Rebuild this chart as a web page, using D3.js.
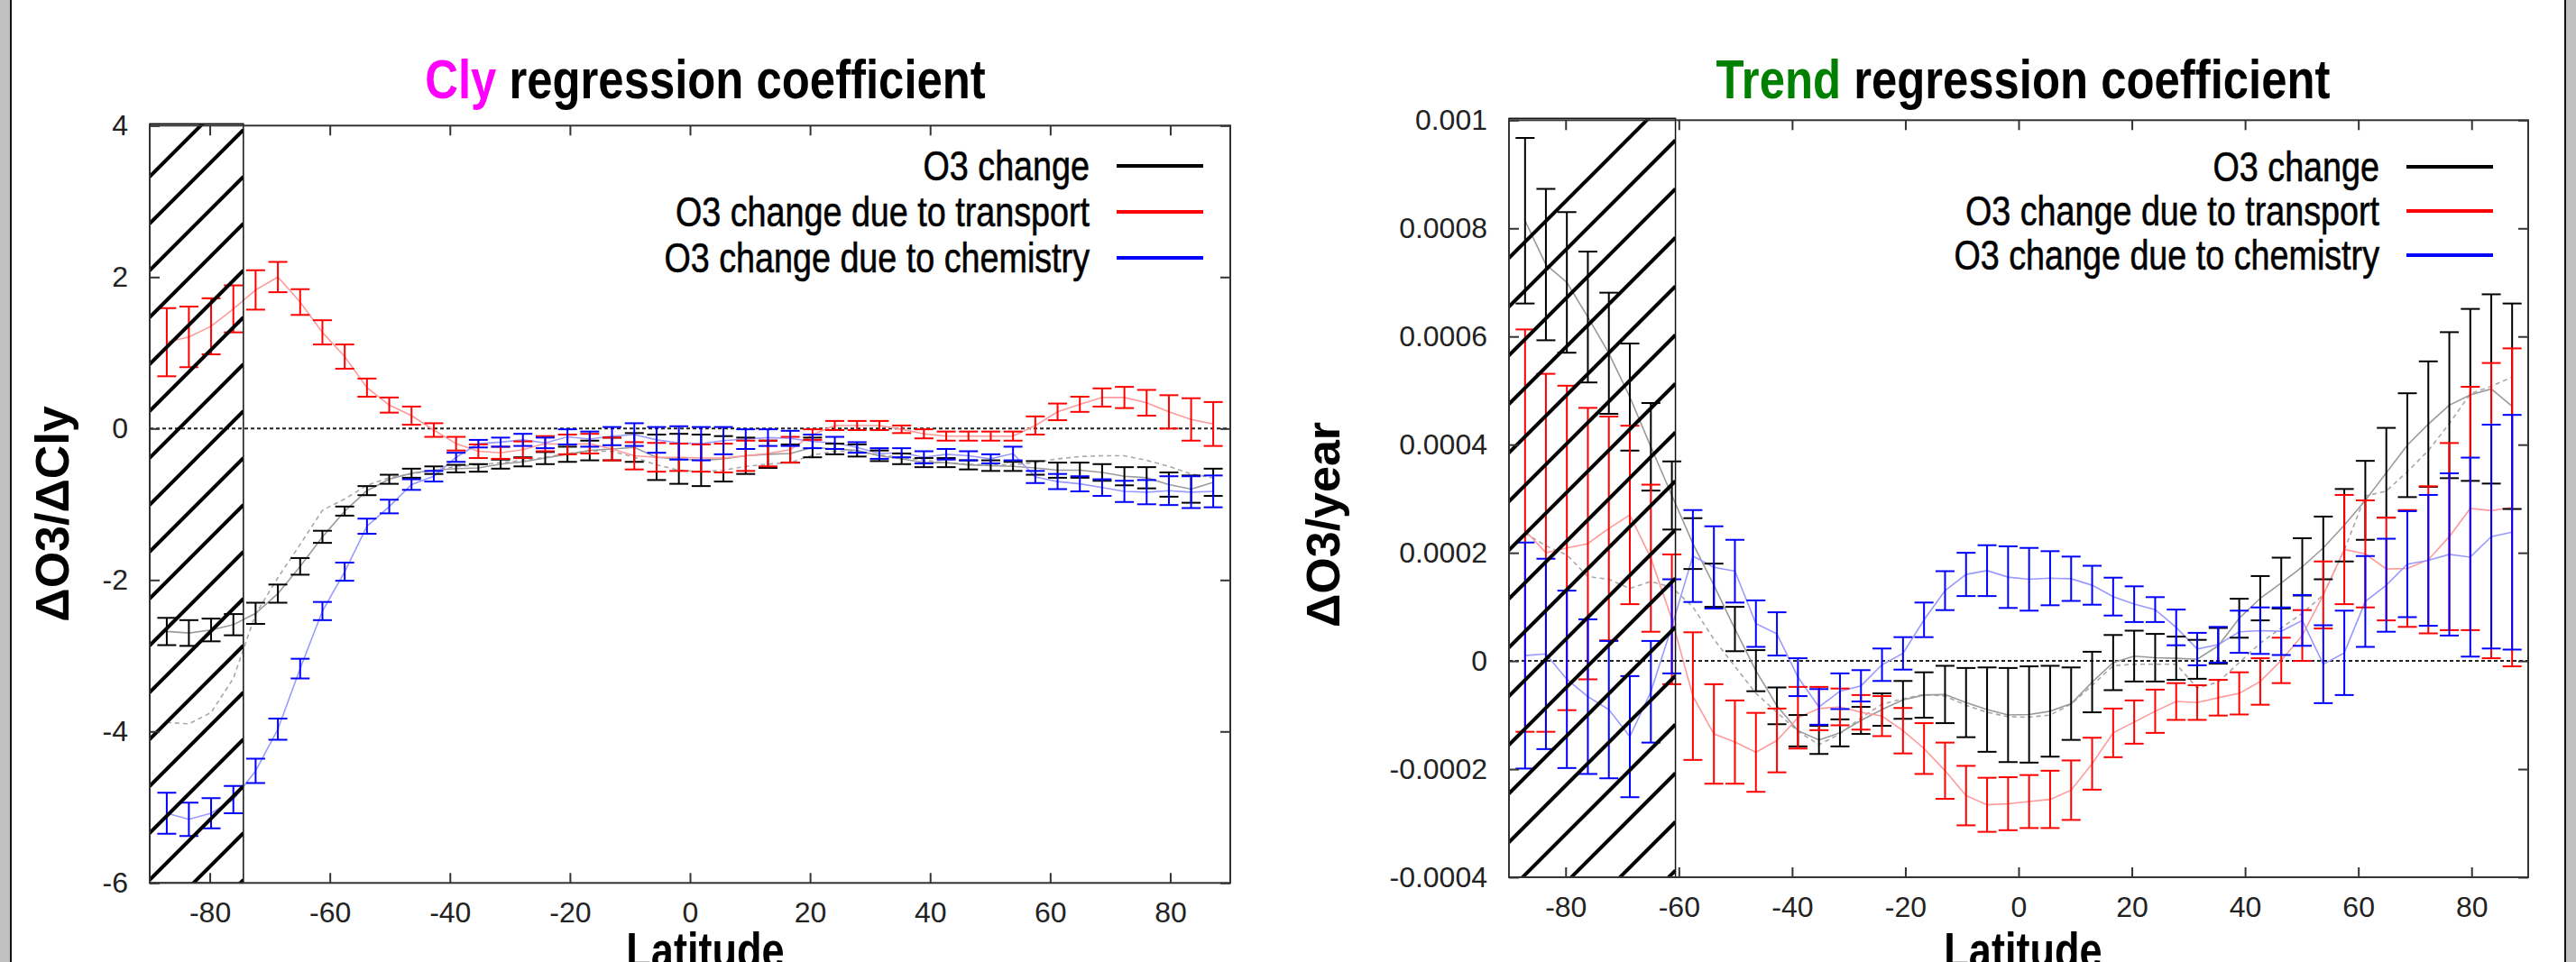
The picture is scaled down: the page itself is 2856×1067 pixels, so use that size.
<!DOCTYPE html>
<html>
<head>
<meta charset="utf-8">
<script src="https://cdn.jsdelivr.net/npm/d3@7"></script>
<style>
  html, body { margin: 0; padding: 0; background: #fff; }
  svg { display: block; }
</style>
</head>
<body>
<svg id="chart" width="2856" height="1067"></svg>
<script>
// Latitudes of the zonal-mean grid (48 Gaussian latitudes, south to north)
const lats = [-87.159, -83.479, -79.777, -76.070, -72.362, -68.652, -64.942, -61.232,
  -57.521, -53.810, -50.099, -46.389, -42.678, -38.967, -35.256, -31.545,
  -27.834, -24.123, -20.412, -16.701, -12.990, -9.278, -5.567, -1.856,
  1.856, 5.567, 9.278, 12.990, 16.701, 20.412, 24.123, 27.834,
  31.545, 35.256, 38.967, 42.678, 46.389, 50.099, 53.810, 57.521,
  61.232, 64.942, 68.652, 72.362, 76.070, 79.777, 83.479, 87.159];

const seriesNames = ["O3 change", "O3 change due to transport", "O3 change due to chemistry"];

// ---- Cly regression coefficient (dO3/dCly) ----
const clyTotal = [-2.68, -2.70, -2.66, -2.59, -2.44, -2.18, -1.82, -1.43, -1.09, -0.82, -0.67, -0.59,
  -0.55, -0.53, -0.52, -0.47, -0.44, -0.39, -0.34, -0.29, -0.27, -0.25, -0.38, -0.40,
  -0.42, -0.40, -0.36, -0.34, -0.33, -0.25, -0.27, -0.29, -0.36, -0.40, -0.45, -0.45,
  -0.48, -0.49, -0.50, -0.52, -0.55, -0.55, -0.58, -0.63, -0.65, -0.74, -0.80, -0.71];
const clyTotalErr = [0.18, 0.17, 0.15, 0.14, 0.14, 0.12, 0.11, 0.08, 0.06, 0.06, 0.06, 0.06,
  0.05, 0.05, 0.05, 0.06, 0.06, 0.08, 0.10, 0.13, 0.15, 0.19, 0.30, 0.33,
  0.34, 0.30, 0.24, 0.18, 0.12, 0.13, 0.07, 0.08, 0.07, 0.07, 0.06, 0.06,
  0.06, 0.07, 0.06, 0.09, 0.10, 0.10, 0.11, 0.12, 0.14, 0.16, 0.18, 0.18];
const clyTransport = [1.14, 1.21, 1.35, 1.58, 1.83, 2.00, 1.67, 1.27, 0.95, 0.54, 0.31, 0.17,
  -0.02, -0.20, -0.30, -0.32, -0.28, -0.20, -0.21, -0.20, -0.27, -0.36, -0.38, -0.38,
  -0.39, -0.39, -0.36, -0.33, -0.28, -0.08, 0.04, 0.04, 0.04, -0.01, -0.07, -0.10,
  -0.10, -0.10, -0.10, 0.04, 0.22, 0.32, 0.41, 0.41, 0.34, 0.22, 0.12, 0.06];
const clyTransportErr = [0.45, 0.40, 0.37, 0.31, 0.26, 0.20, 0.17, 0.16, 0.16, 0.12, 0.10, 0.12,
  0.09, 0.09, 0.09, 0.08, 0.11, 0.10, 0.13, 0.13, 0.15, 0.18, 0.19, 0.18,
  0.18, 0.19, 0.20, 0.17, 0.17, 0.07, 0.06, 0.06, 0.06, 0.05, 0.06, 0.06,
  0.06, 0.06, 0.06, 0.12, 0.11, 0.10, 0.12, 0.14, 0.17, 0.22, 0.28, 0.29];
const clyChemistry = [-5.08, -5.16, -5.08, -4.90, -4.52, -3.97, -3.17, -2.41, -1.89, -1.29, -1.03, -0.74,
  -0.63, -0.38, -0.20, -0.18, -0.15, -0.19, -0.11, -0.14, -0.10, -0.08, -0.15, -0.19,
  -0.20, -0.16, -0.14, -0.12, -0.13, -0.17, -0.19, -0.25, -0.33, -0.32, -0.38, -0.34,
  -0.36, -0.40, -0.33, -0.64, -0.70, -0.73, -0.78, -0.83, -0.84, -0.82, -0.84, -0.83];
const clyChemistryErr = [0.27, 0.22, 0.20, 0.18, 0.16, 0.14, 0.13, 0.12, 0.12, 0.10, 0.09, 0.07,
  0.07, 0.06, 0.05, 0.06, 0.08, 0.07, 0.10, 0.10, 0.12, 0.15, 0.17, 0.22,
  0.22, 0.18, 0.13, 0.11, 0.10, 0.09, 0.08, 0.07, 0.07, 0.06, 0.08, 0.07,
  0.06, 0.06, 0.09, 0.08, 0.10, 0.10, 0.11, 0.14, 0.16, 0.19, 0.21, 0.21];
// companion estimate of the total change (grey dashed curve)
const clyTotalAlt = [-3.88, -3.90, -3.75, -3.30, -2.45, -1.97, -1.53, -1.08, -0.93, -0.75, -0.65, -0.60,
  -0.55, -0.50, -0.48, -0.45, -0.42, -0.38, -0.33, -0.30, -0.30, -0.38, -0.48, -0.55,
  -0.57, -0.55, -0.50, -0.47, -0.45, -0.35, -0.30, -0.30, -0.35, -0.38, -0.42, -0.45,
  -0.47, -0.48, -0.48, -0.45, -0.40, -0.37, -0.36, -0.36, -0.42, -0.50, -0.60, -0.65];
const clyTicks = [-6, -4, -2, 0, 2, 4];
const clyTickLabels = ["-6", "-4", "-2", "0", "2", "4"];

// ---- Trend regression coefficient (dO3/year) ----
const trendTotal = [8.14e-4, 7.33e-4, 7.00e-4, 6.36e-4, 5.69e-4, 4.88e-4, 3.96e-4, 3.06e-4, 2.17e-4, 1.40e-4, 0.59e-4, -0.18e-4,
  -0.83e-4, -1.29e-4, -1.46e-4, -1.33e-4, -1.10e-4, -0.90e-4, -0.72e-4, -0.63e-4, -0.62e-4, -0.77e-4, -0.90e-4, -1.00e-4,
  -0.99e-4, -0.93e-4, -0.79e-4, -0.39e-4, -0.03e-4, 0.09e-4, 0.06e-4, 0.05e-4, 0.03e-4, 0.28e-4, 0.79e-4, 1.16e-4,
  1.44e-4, 1.74e-4, 2.09e-4, 2.51e-4, 2.97e-4, 3.48e-4, 3.99e-4, 4.38e-4, 4.73e-4, 4.92e-4, 5.03e-4, 4.71e-4];
const trendTotalErr = [1.53e-4, 1.40e-4, 1.30e-4, 1.21e-4, 1.12e-4, 0.99e-4, 0.81e-4, 0.63e-4, 0.47e-4, 0.40e-4, 0.41e-4, 0.38e-4,
  0.34e-4, 0.29e-4, 0.26e-4, 0.25e-4, 0.25e-4, 0.30e-4, 0.35e-4, 0.42e-4, 0.53e-4, 0.64e-4, 0.78e-4, 0.87e-4,
  0.89e-4, 0.84e-4, 0.67e-4, 0.56e-4, 0.51e-4, 0.47e-4, 0.44e-4, 0.40e-4, 0.36e-4, 0.33e-4, 0.36e-4, 0.41e-4,
  0.47e-4, 0.53e-4, 0.58e-4, 0.67e-4, 0.73e-4, 0.83e-4, 0.96e-4, 1.16e-4, 1.35e-4, 1.59e-4, 1.75e-4, 1.90e-4];
const trendTransport = [2.41e-4, 2.00e-4, 2.09e-4, 2.17e-4, 2.45e-4, 2.70e-4, 1.90e-4, 0.77e-4, -0.65e-4, -1.35e-4, -1.50e-4, -1.69e-4,
  -1.47e-4, -1.05e-4, -0.88e-4, -0.85e-4, -0.95e-4, -1.02e-4, -1.29e-4, -1.62e-4, -2.03e-4, -2.49e-4, -2.66e-4, -2.64e-4,
  -2.60e-4, -2.56e-4, -2.39e-4, -1.90e-4, -1.33e-4, -1.13e-4, -0.93e-4, -0.75e-4, -0.77e-4, -0.68e-4, -0.60e-4, -0.38e-4,
  0.01e-4, 0.47e-4, 1.22e-4, 2.06e-4, 1.98e-4, 1.70e-4, 1.71e-4, 1.87e-4, 2.30e-4, 2.82e-4, 2.78e-4, 2.84e-4];
const trendTransportErr = [3.72e-4, 3.31e-4, 3.00e-4, 2.51e-4, 2.07e-4, 1.65e-4, 1.36e-4, 1.20e-4, 1.18e-4, 0.92e-4, 0.77e-4, 0.73e-4,
  0.59e-4, 0.57e-4, 0.40e-4, 0.34e-4, 0.32e-4, 0.37e-4, 0.42e-4, 0.47e-4, 0.52e-4, 0.55e-4, 0.50e-4, 0.49e-4,
  0.49e-4, 0.53e-4, 0.55e-4, 0.48e-4, 0.45e-4, 0.40e-4, 0.40e-4, 0.34e-4, 0.32e-4, 0.33e-4, 0.39e-4, 0.43e-4,
  0.42e-4, 0.47e-4, 0.62e-4, 1.01e-4, 0.99e-4, 0.95e-4, 1.08e-4, 1.36e-4, 1.73e-4, 2.25e-4, 2.73e-4, 2.94e-4];
const trendChemistry = [0.10e-4, 0.13e-4, -0.34e-4, -0.66e-4, -0.90e-4, -1.40e-4, -0.57e-4, 0.64e-4, 1.94e-4, 1.73e-4, 1.66e-4, 0.69e-4,
  0.50e-4, -0.30e-4, -0.85e-4, -0.56e-4, -0.46e-4, -0.07e-4, 0.14e-4, 0.76e-4, 1.30e-4, 1.60e-4, 1.67e-4, 1.55e-4,
  1.51e-4, 1.53e-4, 1.52e-4, 1.40e-4, 1.19e-4, 1.05e-4, 0.95e-4, 0.62e-4, 0.22e-4, 0.30e-4, 0.54e-4, 0.56e-4,
  0.55e-4, 0.75e-4, -0.06e-4, 0.15e-4, 1.10e-4, 1.40e-4, 1.79e-4, 1.86e-4, 1.97e-4, 1.92e-4, 2.30e-4, 2.38e-4];
const trendChemistryErr = [2.09e-4, 1.76e-4, 1.64e-4, 1.43e-4, 1.27e-4, 1.12e-4, 0.94e-4, 0.87e-4, 0.85e-4, 0.76e-4, 0.58e-4, 0.43e-4,
  0.40e-4, 0.35e-4, 0.33e-4, 0.33e-4, 0.29e-4, 0.30e-4, 0.30e-4, 0.32e-4, 0.36e-4, 0.40e-4, 0.47e-4, 0.57e-4,
  0.58e-4, 0.50e-4, 0.41e-4, 0.36e-4, 0.35e-4, 0.33e-4, 0.23e-4, 0.33e-4, 0.30e-4, 0.33e-4, 0.39e-4, 0.43e-4,
  0.44e-4, 0.47e-4, 0.72e-4, 0.78e-4, 0.84e-4, 0.86e-4, 0.98e-4, 1.21e-4, 1.50e-4, 1.84e-4, 2.07e-4, 2.17e-4];
const trendTotalAlt = [2.36e-4, 2.13e-4, 1.96e-4, 1.56e-4, 1.51e-4, 1.34e-4, 1.47e-4, 1.36e-4, 1.00e-4, 0.40e-4, -0.10e-4, -0.60e-4,
  -0.95e-4, -1.30e-4, -1.55e-4, -1.35e-4, -1.05e-4, -0.80e-4, -0.70e-4, -0.62e-4, -0.65e-4, -0.82e-4, -0.95e-4, -1.03e-4,
  -1.04e-4, -1.00e-4, -0.80e-4, -0.45e-4, -0.09e-4, -0.06e-4, -0.06e-4, -0.06e-4, -0.50e-4, -0.39e-4, -0.03e-4, 0.33e-4,
  0.61e-4, 0.88e-4, 1.22e-4, 2.05e-4, 3.05e-4, 3.14e-4, 3.50e-4, 3.89e-4, 4.39e-4, 4.94e-4, 5.08e-4, 5.25e-4];
const trendTicks = [-0.0004, -0.0002, 0, 0.0002, 0.0004, 0.0006, 0.0008, 0.001];
const trendTickLabels = ["-0.0004", "-0.0002", "0", "0.0002", "0.0004", "0.0006", "0.0008", "0.001"];

const latTicks = [-80, -60, -40, -20, 0, 20, 40, 60, 80];
const latTickLabels = ["-80", "-60", "-40", "-20", "0", "20", "40", "60", "80"];

const W = 2856, H = 1067;
const svg = d3.select("#chart");
const SANS = "'Liberation Sans', Arial, sans-serif";
const NARROW_SCALE = 0.82;   // horizontal squeeze giving a condensed face

// slide edges
svg.append("rect").attr("x", 0).attr("y", 0).attr("width", 11).attr("height", H).attr("fill", "#c0c0c0");
svg.append("rect").attr("x", 11).attr("y", 0).attr("width", 2).attr("height", H).attr("fill", "#111");
svg.append("rect").attr("x", 2843).attr("y", 0).attr("width", 2).attr("height", H).attr("fill", "#111");
svg.append("rect").attr("x", 2845).attr("y", 0).attr("width", 11).attr("height", H).attr("fill", "#c0c0c0");

// condensed text helper
function narrowText(parent, x, y, anchor, size, weight) {
  return parent.append("text")
    .attr("transform", `translate(${x},${y}) scale(${NARROW_SCALE},1)`)
    .attr("text-anchor", anchor)
    .style("font-family", SANS).style("font-size", size + "px").style("font-weight", weight);
}

function drawPanel(p) {
  const x = d3.scaleLinear().domain([-90, 90]).range([p.left, p.right]);
  const y = d3.scaleLinear().domain(p.yDomain).range([p.bottom, p.top]);
  const g = svg.append("g");
  const clipId = "clip-" + p.id;
  g.append("clipPath").attr("id", clipId).append("rect")
    .attr("x", p.left).attr("y", p.top).attr("width", p.right - p.left).attr("height", p.bottom - p.top);
  const plot = g.append("g").attr("clip-path", `url(#${clipId})`);

  // zero reference
  plot.append("line")
    .attr("x1", p.left).attr("x2", p.right).attr("y1", y(0)).attr("y2", y(0))
    .attr("stroke", "#222").attr("stroke-width", 2).attr("stroke-dasharray", "4,3");

  const line = d3.line().x((d, i) => x(lats[i])).y(d => y(d));

  // companion estimate, grey dashed
  plot.append("path").datum(p.alt).attr("d", line)
    .attr("fill", "none").attr("stroke", "#a8a8a8").attr("stroke-width", 1.6).attr("stroke-dasharray", "5,4");

  const series = [
    { v: p.total, e: p.totalErr, bar: "#000000", thin: "#9a9a9a" },
    { v: p.transport, e: p.transportErr, bar: "#ff0000", thin: "#ff9a9a" },
    { v: p.chemistry, e: p.chemistryErr, bar: "#0000ff", thin: "#9a9aff" }
  ];
  // thin connecting lines through the central estimates
  series.forEach(s => {
    plot.append("path").datum(s.v).attr("d", line)
      .attr("fill", "none").attr("stroke", s.thin).attr("stroke-width", 1.6);
  });
  // error bars
  const cap = 10.5;
  series.forEach(s => {
    const eb = plot.append("g").attr("stroke", s.bar).attr("stroke-width", 2).attr("fill", "none");
    s.v.forEach((v, i) => {
      const cx = x(lats[i]);
      const yl = y(v - s.e[i]), yh = y(v + s.e[i]);
      eb.append("line").attr("x1", cx).attr("x2", cx).attr("y1", yl).attr("y2", yh);
      eb.append("line").attr("x1", cx - cap).attr("x2", cx + cap).attr("y1", yl).attr("y2", yl);
      eb.append("line").attr("x1", cx - cap).attr("x2", cx + cap).attr("y1", yh).attr("y2", yh);
    });
  });

  // hatched polar band
  const hx0 = x(-90), hx1 = x(p.hatchTo);
  const hTop = p.top - 2;
  const hid = "hclip-" + p.id;
  g.append("clipPath").attr("id", hid).append("rect")
    .attr("x", hx0).attr("y", hTop).attr("width", hx1 - hx0).attr("height", p.bottom - hTop);
  const hatch = g.append("g").attr("clip-path", `url(#${hid})`);
  const span = hx1 - hx0;
  for (let yy = p.hatchPhase - Math.ceil((p.hatchPhase - p.top) / p.hatchGap) * p.hatchGap;
       yy < p.bottom + span + p.hatchGap; yy += p.hatchGap) {
    hatch.append("line")
      .attr("x1", hx1).attr("y1", yy).attr("x2", hx1 - span - 10).attr("y2", yy + span + 10)
      .attr("stroke", "#000").attr("stroke-width", 4);
  }
  g.append("rect").attr("x", hx0).attr("y", hTop).attr("width", span).attr("height", p.bottom - hTop)
    .attr("fill", "none").attr("stroke", "#111").attr("stroke-width", 1.5);

  // axes: inward ticks on all four sides, labels on left and bottom
  const axStyle = sel => {
    sel.select(".domain").remove();
    sel.selectAll(".tick line").attr("stroke", "#333").attr("stroke-width", 2);
    sel.selectAll(".tick text").attr("fill", "#222").style("font-family", SANS).style("font-size", "32px");
  };
  g.append("g").attr("transform", `translate(0,${p.bottom})`)
    .call(d3.axisBottom(x).tickValues(latTicks).tickFormat((d, i) => latTickLabels[i])
      .tickSizeInner(-11).tickSizeOuter(0).tickPadding(21)).call(axStyle);
  g.append("g").attr("transform", `translate(0,${p.top})`)
    .call(d3.axisTop(x).tickValues(latTicks).tickFormat("").tickSizeInner(-11).tickSizeOuter(0)).call(axStyle);
  g.append("g").attr("transform", `translate(${p.left},0)`)
    .call(d3.axisLeft(y).tickValues(p.ticks).tickFormat((d, i) => p.tickLabels[i])
      .tickSizeInner(-11).tickSizeOuter(0).tickPadding(24)).call(axStyle);
  g.append("g").attr("transform", `translate(${p.right},0)`)
    .call(d3.axisRight(y).tickValues(p.ticks).tickFormat("").tickSizeInner(-11).tickSizeOuter(0)).call(axStyle);

  g.append("rect").attr("x", p.left).attr("y", p.top).attr("width", p.right - p.left).attr("height", p.bottom - p.top)
    .attr("fill", "none").attr("stroke", "#333").attr("stroke-width", 2);

  // legend
  const legColors = ["#000000", "#ff0000", "#0000ff"];
  seriesNames.forEach((name, i) => {
    const ly = p.legendY + i * p.legendGap;
    narrowText(g, p.legendTextX, ly + 16, "end", 46, "normal")
      .attr("fill", "#000").attr("stroke", "#000").attr("stroke-width", 0.6).text(name);
    g.append("line").attr("x1", p.legendTextX + 30).attr("x2", p.legendTextX + 126)
      .attr("y1", ly).attr("y2", ly).attr("stroke", legColors[i]).attr("stroke-width", 4);
  });

  // title
  const t = narrowText(g, p.titleX, 109, "middle", 62, "bold");
  t.append("tspan").attr("fill", p.titleColor).text(p.titleKey);
  t.append("tspan").attr("fill", "#000").text(" regression coefficient");

  // axis titles
  g.append("text").attr("transform", `translate(${p.yLabelX},${p.yLabelY}) rotate(-90)`)
    .attr("text-anchor", "middle").attr("dominant-baseline", "central")
    .style("font-family", SANS).style("font-size", "52px").style("font-weight", "bold")
    .attr("fill", "#000").text(p.yLabel);
  narrowText(g, p.titleX, 1073, "middle", 55, "bold").attr("fill", "#000").text("Latitude");
}

drawPanel({
  id: "cly", left: 166, right: 1364, top: 139.3, bottom: 979.3, yDomain: [-6, 4],
  ticks: clyTicks, tickLabels: clyTickLabels,
  total: clyTotal, totalErr: clyTotalErr, transport: clyTransport, transportErr: clyTransportErr,
  chemistry: clyChemistry, chemistryErr: clyChemistryErr, alt: clyTotalAlt,
  hatchTo: -74.4, hatchPhase: 144, hatchGap: 52,
  legendTextX: 1208, legendY: 184, legendGap: 51,
  titleX: 782, titleKey: "Cly", titleColor: "#ff00ff",
  yLabel: "ΔO3/ΔCly", yLabelX: 58, yLabelY: 570
});

drawPanel({
  id: "trend", left: 1673, right: 2803, top: 133.3, bottom: 973, yDomain: [-0.0004, 0.001],
  ticks: trendTicks, tickLabels: trendTickLabels,
  total: trendTotal, totalErr: trendTotalErr, transport: trendTransport, transportErr: trendTransportErr,
  chemistry: trendChemistry, chemistryErr: trendChemistryErr, alt: trendTotalAlt,
  hatchTo: -60.6, hatchPhase: 155.5, hatchGap: 54,
  legendTextX: 2638, legendY: 185, legendGap: 49,
  titleX: 2243, titleKey: "Trend", titleColor: "#008000",
  yLabel: "ΔO3/year", yLabelX: 1467, yLabelY: 582
});
</script>
</body>
</html>
